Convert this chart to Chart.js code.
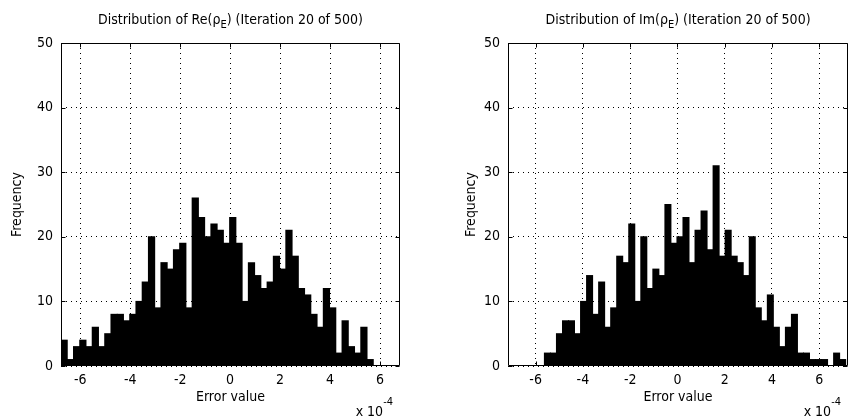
<!DOCTYPE html>
<html>
<head>
<meta charset="utf-8">
<script src="https://cdn.jsdelivr.net/npm/chart.js@4/dist/chart.umd.min.js"></script>
<style>
body{margin:0;background:#fff;}
#wrap{position:relative;width:850px;height:419px;}
.box{position:absolute;top:0;width:425px;height:419px;}
</style>
</head>
<body>
<div id="wrap">
  <div class="box" style="left:0"><canvas id="reChart"></canvas></div>
  <div class="box" style="left:425px"><canvas id="imChart"></canvas></div>
</div>
<script>
// DATA (x values in units of 1e-4)
var reBins = [-6.645,-6.395,-6.145,-5.895,-5.645,-5.395,-5.145,-4.895,-4.645,-4.395,
              -4.145,-3.895,-3.645,-3.395,-3.145,-2.895,-2.645,-2.395,-2.145,-1.895,
              -1.645,-1.395,-1.145,-0.895,-0.645,-0.395,-0.145,0.105,0.355,0.605,
              0.855,1.105,1.355,1.605,1.855,2.105,2.355,2.605,2.855,3.105,
              3.355,3.605,3.855,4.105,4.355,4.605,4.855,5.105,5.355,5.605];
var reCounts = [4,1,3,4,3,6,3,5,8,8,
                7,8,10,13,20,9,16,15,18,19,
                9,26,23,20,22,21,19,23,19,10,
                16,14,12,13,17,15,21,17,12,11,
                8,6,12,9,2,7,3,2,6,1];

var imBins = [-5.502,-5.247,-4.992,-4.737,-4.482,-4.227,-3.972,-3.717,-3.462,-3.207,
              -2.952,-2.697,-2.442,-2.187,-1.932,-1.677,-1.422,-1.167,-0.912,-0.657,
              -0.402,-0.147,0.108,0.363,0.618,0.873,1.128,1.383,1.638,1.893,
              2.148,2.403,2.658,2.913,3.168,3.423,3.678,3.933,4.188,4.443,
              4.698,4.953,5.208,5.463,5.718,5.973,6.228,6.483,6.738,6.993];
var imCounts = [2,2,5,7,7,5,10,14,8,13,
                6,9,17,16,22,10,20,12,15,14,
                25,19,20,23,16,21,24,18,31,17,
                21,17,16,14,20,9,7,11,6,3,
                6,8,2,2,1,1,1,0,2,1];

var xTicks = [-6,-4,-2,0,2,4,6];
var yTicks = [0,10,20,30,40,50];

var FONT = "'DejaVu Sans Condensed', 'Liberation Sans', sans-serif";
var FSIZE = 14;

// frame, inner ticks, title with subscript, exponent label
var framePlugin = {
  id: 'frame',
  afterDraw: function(chart, args, opts) {
    var ctx = chart.ctx, a = chart.chartArea;
    var xs = chart.scales.x, ys = chart.scales.y;
    var L = Math.round(a.left) + 0.5, R = Math.round(a.right) - 0.5;
    var T = Math.round(a.top) + 0.5, B = Math.round(a.bottom) - 0.5;
    ctx.save();
    ctx.strokeStyle = '#000';
    ctx.lineWidth = 1;
    ctx.beginPath();
    ctx.rect(L, T, R - L, B - T);
    xTicks.forEach(function(v) {
      var p = Math.round(xs.getPixelForValue(v)) + 0.5;
      ctx.moveTo(p, B); ctx.lineTo(p, B - 4);
      ctx.moveTo(p, T); ctx.lineTo(p, T + 4);
    });
    yTicks.forEach(function(v) {
      var p = Math.round(ys.getPixelForValue(v)) + 0.5;
      ctx.moveTo(L, p); ctx.lineTo(L + 4, p);
      ctx.moveTo(R, p); ctx.lineTo(R - 4, p);
    });
    ctx.stroke();

    // title
    ctx.fillStyle = '#000';
    ctx.textBaseline = 'alphabetic';
    var big = FSIZE + 'px ' + FONT, small = '11px ' + FONT;
    ctx.font = big;
    var w1 = ctx.measureText(opts.pre).width;
    var w3 = ctx.measureText(opts.post).width;
    ctx.font = small;
    var w2 = ctx.measureText(opts.sub).width;
    var cx = (a.left + a.right) / 2;
    var x0 = cx - (w1 + w2 + w3) / 2, yb = 24;
    ctx.textAlign = 'left';
    ctx.font = big;
    ctx.fillText(opts.pre, x0, yb);
    ctx.font = small;
    ctx.fillText(opts.sub, x0 + w1, yb + 4);
    ctx.font = big;
    ctx.fillText(opts.post, x0 + w1 + w2, yb);

    // x 10^-4
    ctx.font = big;
    var wb = ctx.measureText('x 10').width;
    ctx.font = small;
    var we = ctx.measureText('-4').width;
    var xr = a.right - 7;
    ctx.font = big;
    ctx.fillText('x 10', xr - we - wb, 416);
    ctx.font = small;
    ctx.fillText('-4', xr - we, 405);
    ctx.restore();
  }
};

function makeHist(id, bins, counts, xMin, xMax, yAxisWidth, rightPad, yTitlePad, titleText) {
  var ctx = document.getElementById(id).getContext('2d');
  var points = bins.map(function(b, i) { return {x: b, y: counts[i]}; });
  return new Chart(ctx, {
    type: 'bar',
    data: {
      datasets: [{
        data: points,
        backgroundColor: '#000',
        borderWidth: 0,
        barPercentage: 1,
        categoryPercentage: 1,
        inflateAmount: 0.5
      }]
    },
    options: {
      responsive: true,
      maintainAspectRatio: false,
      animation: false,
      layout: {padding: {top: 43, right: rightPad, bottom: 0, left: 0}},
      plugins: {
        legend: {display: false},
        tooltip: {enabled: false},
        frame: titleText
      },
      scales: {
        x: {
          type: 'linear',
          min: xMin,
          max: xMax,
          offset: false,
          afterBuildTicks: function(s) { s.ticks = xTicks.map(function(v) { return {value: v}; }); },
          afterFit: function(s) { s.height = 53; },
          grid: {color: '#000', lineWidth: 1, drawTicks: false, offset: false},
          border: {display: false, dash: [1, 4]},
          ticks: {color: '#000', padding: 6, maxRotation: 0, font: {family: FONT, size: FSIZE}},
          title: {display: true, text: 'Error value', color: '#000',
                  font: {family: FONT, size: FSIZE}, padding: {top: 0, bottom: 13}}
        },
        y: {
          min: 0,
          max: 50,
          afterBuildTicks: function(s) { s.ticks = yTicks.map(function(v) { return {value: v}; }); },
          afterFit: function(s) { s.width = yAxisWidth; },
          grid: {color: '#000', lineWidth: 1, drawTicks: false},
          border: {display: false, dash: [1, 4]},
          ticks: {color: '#000', padding: 8, font: {family: FONT, size: FSIZE}},
          title: {display: true, text: 'Frequency', color: '#000',
                  font: {family: FONT, size: FSIZE}, padding: {top: yTitlePad, bottom: 0}}
        }
      }
    },
    plugins: [framePlugin]
  });
}

makeHist('reChart', reBins, reCounts, -6.77, 6.8, 61, 25, 9,
  {pre: 'Distribution of Re(\u03C1', sub: 'E', post: ') (Iteration 20 of 500)'});
makeHist('imChart', imBins, imCounts, -7.17, 7.22, 83, 2, 38,
  {pre: 'Distribution of Im(\u03C1', sub: 'E', post: ') (Iteration 20 of 500)'});
</script>
</body>
</html>
